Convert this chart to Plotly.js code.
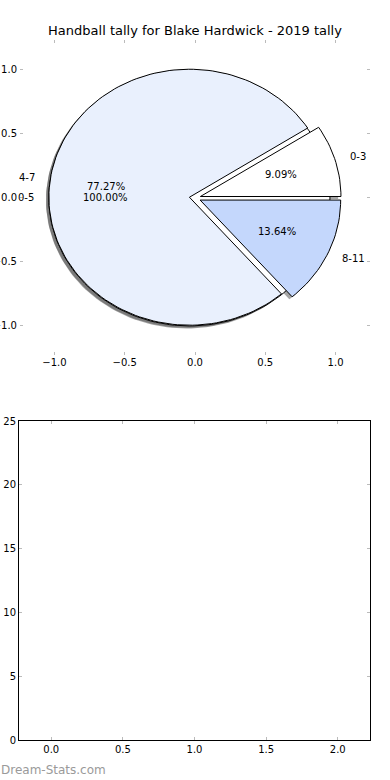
<!DOCTYPE html>
<html>
<head>
<meta charset="utf-8">
<script src="https://cdn.plot.ly/plotly-3.0.1.min.js"></script>
<style>html,body{margin:0;padding:0;background:#fff;}#chart{width:390px;height:780px;}</style>
</head>
<body>
<div id="chart"></div>
<script>
// ---- data ----
const titleText = 'Handball tally for Blake Hardwick - 2019 tally';
const pieLabels = ['0-3', '4-7', '8-11'];
const pieCounts = [2, 17, 3];
const pieColors = ['#ffffff', '#e9f0fd', '#c4d7fc'];
const pie2Labels = ['0-5'];
const pie2Counts = [1];
const pie2Colors = ['#ffffff'];
const barCategories = [];
const barValues = [];
const pieTicks = [-1, -0.5, 0, 0.5, 1];
const barXTicks = [0, 0.5, 1, 1.5, 2];
const barYTicks = [0, 5, 10, 15, 20, 25];

// ---- style constants ----
const EXPLODE = 0.04, LABEL_DIST = 1.1, PCT_DIST = 0.6, SHADOW_OFF = -0.02;
const FONT = 'DejaVu Sans';
const W = 390, H = 780;

function wedges(labels, counts, colors) {
  const total = counts.reduce((a, b) => a + b, 0);
  let acc = 0;
  return counts.map((c, i) => {
    const t1 = 360 * acc / total;
    acc += c;
    const t2 = 360 * acc / total;
    const mid = (t1 + t2) / 2 * Math.PI / 180;
    const cx = EXPLODE * Math.cos(mid), cy = EXPLODE * Math.sin(mid);
    const full = Math.abs((t2 - t1) - 360) < 1e-9;
    const xs = [], ys = [];
    if (!full) { xs.push(cx); ys.push(cy); }
    const n = Math.max(4, Math.ceil((t2 - t1) / 2));
    for (let k = 0; k <= n; k++) {
      const a = (t1 + (t2 - t1) * k / n) * Math.PI / 180;
      xs.push(cx + Math.cos(a)); ys.push(cy + Math.sin(a));
    }
    if (!full) { xs.push(cx); ys.push(cy); }
    return {xs, ys, cx, cy, mid, color: colors[i], label: labels[i],
            pct: (100 * c / total).toFixed(2) + '%'};
  });
}

const w1 = wedges(pieLabels, pieCounts, pieColors);
const w2 = wedges(pie2Labels, pie2Counts, pie2Colors);

function shadowTrace(w) {
  return {x: w.xs.map(v => v + SHADOW_OFF), y: w.ys.map(v => v + SHADOW_OFF),
    type: 'scatter', mode: 'lines', fill: 'toself', fillcolor: 'rgba(77,77,77,0.5)',
    line: {width: 0, color: 'rgba(0,0,0,0)'}, hoverinfo: 'skip', showlegend: false,
    xaxis: 'x', yaxis: 'y'};
}
function wedgeTrace(w) {
  return {x: w.xs, y: w.ys, type: 'scatter', mode: 'lines', fill: 'toself',
    fillcolor: w.color, line: {width: 1, color: '#000'}, hoverinfo: 'skip',
    showlegend: false, xaxis: 'x', yaxis: 'y'};
}

const traces = [];
w2.forEach(w => traces.push(shadowTrace(w)));
w1.forEach(w => traces.push(shadowTrace(w)));
w2.forEach(w => traces.push(wedgeTrace(w)));
w1.forEach(w => traces.push(wedgeTrace(w)));
traces.push({x: barCategories, y: barValues, type: 'bar', xaxis: 'x2', yaxis: 'y2',
  showlegend: false, marker: {color: '#4c72b0'}});

const annotations = [];
w1.concat(w2).forEach(w => {
  const c = Math.cos(w.mid), s = Math.sin(w.mid);
  annotations.push({xref: 'x', yref: 'y', x: w.cx + LABEL_DIST * c, y: w.cy + LABEL_DIST * s,
    text: w.label, showarrow: false, xanchor: c > 0 ? 'left' : 'right', yanchor: 'middle',
    font: {family: FONT, size: 10, color: '#000'}, borderpad: 0});
});
w1.concat(w2).forEach(w => {
  annotations.push({xref: 'x', yref: 'y', x: w.cx + PCT_DIST * Math.cos(w.mid), y: w.cy + PCT_DIST * Math.sin(w.mid),
    text: w.pct, showarrow: false, xanchor: 'center', yanchor: 'middle',
    font: {family: FONT, size: 10, color: '#000'}, borderpad: 0});
});
annotations.push({xref: 'paper', yref: 'paper', x: -0.002, y: (H - 770) / H, xanchor: 'left', yanchor: 'middle',
  text: 'Dream-Stats.com', showarrow: false, font: {family: FONT, size: 12, color: '#9a9a9a'}});

const tickFont = {family: FONT, size: 10, color: '#000'};
const layout = {
  width: W, height: H, margin: {l: 0, r: 0, t: 0, b: 0},
  paper_bgcolor: '#fff', plot_bgcolor: 'rgba(0,0,0,0)', showlegend: false,
  title: {text: titleText, font: {family: FONT, size: 13, color: '#000'},
    x: 0.5, xanchor: 'center', y: 1 - 30 / H, yanchor: 'middle'},
  xaxis: {domain: [20 / W, 370 / W], range: [-1.245, 1.245], anchor: 'y',
    tickvals: pieTicks, tickformat: '.1f', ticks: 'inside', ticklen: 3, tickcolor: '#bbb',
    mirror: 'allticks', showline: false, showgrid: false, zeroline: false,
    tickfont: tickFont, fixedrange: true},
  yaxis: {domain: [(H - 355) / H, (H - 40) / H], range: [-1.227, 1.234], anchor: 'x',
    tickvals: pieTicks, tickformat: '.1f', ticks: 'inside', ticklen: 3, tickcolor: '#bbb',
    mirror: 'allticks', showline: false, showgrid: false, zeroline: false,
    ticklabelstandoff: 2, tickfont: tickFont, fixedrange: true},
  xaxis2: {domain: [19 / W, 370 / W], range: [-0.225, 2.225], anchor: 'y2',
    tickvals: barXTicks, tickformat: '.1f', ticks: 'inside', ticklen: 3, tickcolor: '#bbb',
    mirror: 'allticks', showline: true, linecolor: '#000', linewidth: 1,
    showgrid: false, zeroline: false, tickfont: tickFont, fixedrange: true},
  yaxis2: {domain: [40 / H, 359 / H], range: [0, 25], anchor: 'x2',
    tickvals: barYTicks, ticks: 'inside', ticklen: 3, tickcolor: '#bbb',
    mirror: 'allticks', showline: true, linecolor: '#000', linewidth: 1,
    showgrid: false, zeroline: false, tickfont: tickFont, fixedrange: true},
  annotations: annotations
};

Plotly.newPlot('chart', traces, layout, {displayModeBar: false, staticPlot: true});
</script>
</body>
</html>
